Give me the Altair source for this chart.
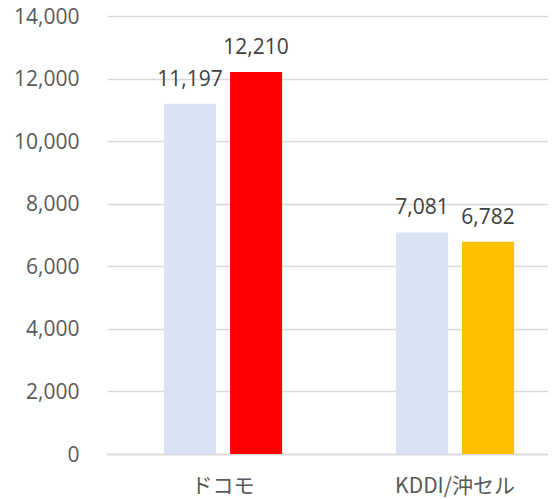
import altair as alt
import pandas as pd

categories = ["ドコモ", "ドコモ", "KDDI/沖セル", "KDDI/沖セル"]
series = ["前年", "今年", "前年", "今年"]
values = [11197, 12210, 7081, 6782]
colors = ["#dae3f3", "#ff0000", "#dae3f3", "#ffc000"]
cat_order = ["ドコモ", "KDDI/沖セル"]
series_order = ["前年", "今年"]
y_ticks = [0, 2000, 4000, 6000, 8000, 10000, 12000, 14000]

df = pd.DataFrame({"category": categories, "series": series, "value": values, "color": colors})

x = alt.X("category:N", sort=cat_order, title=None,
          scale=alt.Scale(paddingInner=0.491, paddingOuter=0.196, align=0.627),
          axis=alt.Axis(labelAngle=0, ticks=False, tickSize=0, labelPadding=38,
                        labelBaseline="alphabetic", labelFont="Noto Sans CJK JP",
                        labelFontSize=21, labelColor="#595959", domainColor="#d9d9d9",
                        domainWidth=1.5))
xo = alt.XOffset("series:N", sort=series_order,
                 scale=alt.Scale(paddingInner=0.212, paddingOuter=0))
y = alt.Y("value:Q", title=None,
          scale=alt.Scale(domain=[0, 14000], nice=False),
          axis=alt.Axis(values=y_ticks, format=",.0f", ticks=False, tickSize=0, labelPadding=28,
                        labelOffset=1, labelFont="Open Sans", labelFontSize=21,
                        labelColor="#595959", domain=False, gridColor="#d9d9d9",
                        gridWidth=1.5))

bars = alt.Chart(df).mark_bar().encode(
    x=x, xOffset=xo, y=y, color=alt.Color("color:N", scale=None)
)
labels = alt.Chart(df).mark_text(baseline="alphabetic", dy=-18, font="Open Sans",
                                 fontSize=21, color="#404040").encode(
    x=x, xOffset=xo, y=y, text=alt.Text("value:Q", format=",")
)

chart = (bars + labels).properties(
    width=441, height=438,
    autosize=alt.AutoSizeParams(type="none"),
    padding={"left": 99, "top": 8, "right": 0, "bottom": 46},
).configure_view(stroke=None)

chart.save("out.html", embed_options={"renderer": "svg", "actions": False})
